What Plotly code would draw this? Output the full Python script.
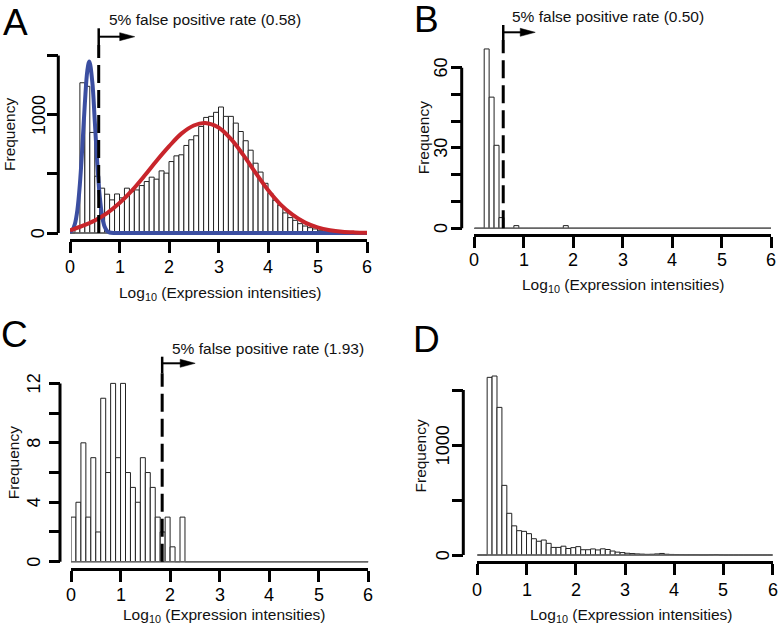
import numpy as np
import plotly.graph_objects as go

W, H = 783, 631
FONT = "Liberation Sans, Arial, Helvetica, sans-serif"

# ---------------- data ----------------
bin_width = 0.1
bin_starts = np.round(np.arange(0, 6, bin_width), 1)   # 0.0 .. 5.9
x_ticks = [0, 1, 2, 3, 4, 5, 6]
x_tick_labels = ["0", "1", "2", "3", "4", "5", "6"]

freq_A = [0, 40, 1270, 1240, 850, 480, 379, 328, 280, 330,
          297, 379, 350, 364, 401, 435, 472, 455, 525, 506,
          604, 652, 661, 740, 788, 822, 901, 977, 986, 1020,
          1065, 986, 986, 929, 858, 780, 700, 590, 515, 420,
          335, 277, 235, 170, 130, 107, 79, 59, 45, 34,
          23, 15, 10, 6, 4, 2, 1, 1, 0, 0]
freq_B = [0, 0, 67, 49, 31, 4, 0, 0, 1, 0,
          0, 0, 0, 0, 0, 0, 0, 0, 1, 0] + [0] * 40
freq_C = [3, 4, 8, 3, 7, 2, 11, 6, 12, 7,
          12, 6, 5, 4, 7, 6, 5, 3, 2, 3,
          1, 0, 3, 0, 0, 0, 0, 0, 0, 0] + [0] * 30
freq_D = [0, 0, 1615, 1627, 1342, 633, 379, 265, 221, 215,
          194, 148, 125, 136, 106, 69, 69, 80, 59, 67,
          76, 48, 48, 55, 46, 56, 50, 36, 26, 22,
          16, 13, 10, 8, 6, 7, 10, 14, 7, 5,
          4, 3, 2, 2, 2, 1, 1, 2, 4, 1,
          0, 0, 0, 0, 0, 0, 0, 0, 0, 0]

# fitted curves in panel A
blue_x = [0.0, 0.05, 0.1, 0.15, 0.2, 0.25, 0.3, 0.35, 0.39, 0.45,
          0.5, 0.55, 0.6, 0.65, 0.7, 0.75, 0.8, 0.9, 1.0, 2.0, 3.0, 4.0, 5.0, 6.0]
blue_y = [7, 26, 78, 196, 415, 734, 1095, 1372, 1450, 1279,
          951, 596, 313, 138, 52, 16, 4, 0, 0, 0, 0, 0, 0, 0]
red_x = [0.0, 0.25, 0.5, 0.75, 1.0, 1.25, 1.5, 1.75, 2.0, 2.25, 2.5, 2.73,
         3.0, 3.25, 3.5, 3.75, 4.0, 4.25, 4.5, 4.75, 5.0, 5.25, 5.5, 5.75, 6.0]
red_y = [22, 60, 106, 168, 253, 358, 481, 611, 732, 840, 909, 930,
         892, 795, 660, 508, 363, 242, 153, 88, 48, 24, 11, 5, 2]

threshold_labels = ["5% false positive rate (0.58)",
                    "5% false positive rate (0.50)",
                    "5% false positive rate (1.93)"]
threshold_pos = [0.58, 0.585, 1.84]

x_title = "Log<sub>10</sub> (Expression intensities)"
y_title = "Frequency"

# ---------------- layout geometry (pixels) ----------------
def X(px):
    return px / W

def Y(py):
    return 1 - py / H

panels = [
    dict(letter="A", freq=freq_A, x0=70.0, x6=367.0, xline=240.0, y0=233.0, ys=0.1183,
         yax=58.3, top=46.0, ytv=[0, 500, 1000, 1500], ytt=["0", "", "1000", ""],
         xlab_y=266.5, ylab_x=38.3,
         lpos=(15.5, 22.0), xt=(220, 293), yt=(9.0, 135),
         thr=dict(i=0, tick=(28.3, 45.0), ay=36.7, alen=36, text=(107, 19.3))),
    dict(letter="B", freq=freq_B, x0=474.3, x6=771.0, xline=235.0, y0=228.3, ys=2.677,
         yax=461.7, top=42.0, ytv=[0, 10, 20, 30, 40, 50, 60],
         ytt=["0", "", "", "30", "", "", "60"],
         xlab_y=259.5, ylab_x=440.8,
         lpos=(426.5, 20.0), xt=(622.5, 285), yt=(423.3, 138),
         thr=dict(i=1, tick=(25.0, 40.0), ay=32.3, alen=32, text=(510, 16.7))),
    dict(letter="C", freq=freq_C, x0=71.0, x6=368.3, xline=569.3, y0=561.7, ys=14.86,
         yax=60.0, top=376.0, ytv=[0, 2, 4, 6, 8, 10, 12],
         ytt=["0", "", "4", "", "8", "", "12"],
         xlab_y=595.0, ylab_x=34.0,
         lpos=(14.0, 334.5), xt=(224, 615), yt=(13.3, 463),
         thr=dict(i=2, tick=(356.7, 373.3), ay=363.3, alen=33, text=(170, 348.3))),
    dict(letter="D", freq=freq_D, x0=477.3, x6=772.7, xline=562.3, y0=555.0, ys=0.11,
         yax=463.3, top=368.0, ytv=[0, 500, 1000, 1500], ytt=["0", "", "1000", ""],
         xlab_y=590.0, ylab_x=443.3,
         lpos=(426.5, 339.5), xt=(631, 615), yt=(419.5, 456),
         thr=None),
]

fig = go.Figure()
shapes = []
annotations = []
layout_axes = {}

BLUE = "#3b4ea1"
RED = "#c8252b"
TICKFONT = dict(family=FONT, size=18, color="black")

for i, p in enumerate(panels, start=1):
    xs = "x" if i == 1 else f"x{i}"
    ysn = "y" if i == 1 else f"y{i}"
    xa = "xaxis" if i == 1 else f"xaxis{i}"
    ya = "yaxis" if i == 1 else f"yaxis{i}"

    ybot = p["y0"] + 5
    layout_axes[xa] = dict(
        domain=[X(p["x0"]), X(p["x6"])], range=[0, 6], anchor="free",
        position=Y(p["xline"]), showline=True, linewidth=3, linecolor="black",
        ticks="outside", ticklen=11, tickwidth=3, tickcolor="black",
        tickvals=x_ticks, showticklabels=False,
        showgrid=False, zeroline=False, automargin=False, fixedrange=True)
    layout_axes[ya] = dict(
        domain=[Y(ybot), Y(p["top"])],
        range=[-(ybot - p["y0"]) / p["ys"], (p["y0"] - p["top"]) / p["ys"]],
        anchor="free", position=X(p["yax"]), showline=False,
        ticks="outside", ticklen=11, tickwidth=3, tickcolor="black",
        tickvals=p["ytv"], showticklabels=False,
        showgrid=False, zeroline=False, automargin=False, fixedrange=True)

    # baseline (zero-height bins)
    fig.add_trace(go.Scatter(x=[bin_starts[0], bin_starts[-1] + bin_width], y=[0, 0],
                             mode="lines", line=dict(color="#666666", width=1.5),
                             xaxis=xs, yaxis=ysn, showlegend=False, hoverinfo="skip"))
    # histogram
    fig.add_trace(go.Bar(x=bin_starts + bin_width / 2, y=p["freq"], width=bin_width,
                         marker=dict(color="white", line=dict(color="#222222", width=1)),
                         xaxis=xs, yaxis=ysn, showlegend=False))
    if i == 1:
        fig.add_trace(go.Scatter(x=blue_x, y=blue_y, mode="lines",
                                 line=dict(color=BLUE, width=4, shape="spline"),
                                 xaxis=xs, yaxis=ysn, showlegend=False))
        fig.add_trace(go.Scatter(x=red_x, y=red_y, mode="lines",
                                 line=dict(color=RED, width=4, shape="spline"),
                                 xaxis=xs, yaxis=ysn, showlegend=False))

    # y axis line from first to last tick
    shapes.append(dict(type="line", xref="paper", yref=ysn,
                       x0=X(p["yax"]), x1=X(p["yax"]), y0=p["ytv"][0], y1=p["ytv"][-1],
                       line=dict(color="black", width=3)))

    # tick labels
    for tv, tt in zip(x_ticks, x_tick_labels):
        annotations.append(dict(text=tt, x=tv, xref=xs, y=Y(p["xlab_y"]), yref="paper",
                                showarrow=False, xanchor="center", yanchor="middle",
                                font=TICKFONT))
    for tv, tt in zip(p["ytv"], p["ytt"]):
        if tt:
            annotations.append(dict(text=tt, x=X(p["ylab_x"]), xref="paper", y=tv, yref=ysn,
                                    showarrow=False, xanchor="center", yanchor="middle",
                                    textangle=-90, font=TICKFONT))

    # panel letter
    annotations.append(dict(text=p["letter"], x=X(p["lpos"][0]), y=Y(p["lpos"][1]),
                            xref="paper", yref="paper", showarrow=False,
                            xanchor="center", yanchor="middle",
                            font=dict(family=FONT, size=37, color="black")))
    # axis titles
    annotations.append(dict(text=x_title, x=X(p["xt"][0]), y=Y(p["xt"][1]),
                            xref="paper", yref="paper", showarrow=False,
                            xanchor="center", yanchor="middle",
                            font=dict(family=FONT, size=15.5, color="#111111")))
    annotations.append(dict(text=y_title, x=X(p["yt"][0]), y=Y(p["yt"][1]),
                            xref="paper", yref="paper", showarrow=False, textangle=-90,
                            xanchor="center", yanchor="middle",
                            font=dict(family=FONT, size=15.5, color="#111111")))

    t = p["thr"]
    if t is not None:
        tx = threshold_pos[t["i"]]
        tpx = p["x0"] + tx * (p["x6"] - p["x0"]) / 6
        # dashed threshold line
        shapes.append(dict(type="line", xref=xs, yref="paper", x0=tx, x1=tx,
                           y0=Y(p["y0"]), y1=Y(t["tick"][1]),
                           line=dict(color="black", width=3, dash="18px,7px")))
        # small vertical tick
        shapes.append(dict(type="line", xref="paper", yref="paper",
                           x0=X(tpx), x1=X(tpx), y0=Y(t["tick"][0]), y1=Y(t["tick"][1]),
                           line=dict(color="black", width=2.5)))
        # arrow shaft
        hx = tpx + t["alen"]
        shapes.append(dict(type="line", xref="paper", yref="paper",
                           x0=X(tpx), x1=X(hx - 10), y0=Y(t["ay"]), y1=Y(t["ay"]),
                           line=dict(color="black", width=2)))
        # arrow head
        path = (f"M {X(hx - 15)} {Y(t['ay'] - 4)} L {X(hx)} {Y(t['ay'])} "
                f"L {X(hx - 15)} {Y(t['ay'] + 4)} Z")
        shapes.append(dict(type="path", xref="paper", yref="paper", path=path,
                           fillcolor="black", line=dict(color="black", width=0.5)))
        annotations.append(dict(text=threshold_labels[t["i"]], x=X(t["text"][0]),
                                y=Y(t["text"][1]), xref="paper", yref="paper",
                                showarrow=False, xanchor="left", yanchor="middle",
                                font=dict(family=FONT, size=15.5, color="#111111")))

fig.update_layout(
    width=W, height=H, autosize=False, template="none",
    margin=dict(l=0, r=0, t=0, b=0, pad=0),
    paper_bgcolor="white", plot_bgcolor="white",
    showlegend=False, shapes=shapes, annotations=annotations,
    **layout_axes)

fig.write_html("out.html", config={"displayModeBar": False},
               post_script="document.body.style.margin='0';"
                           "document.body.style.overflow='hidden';")
